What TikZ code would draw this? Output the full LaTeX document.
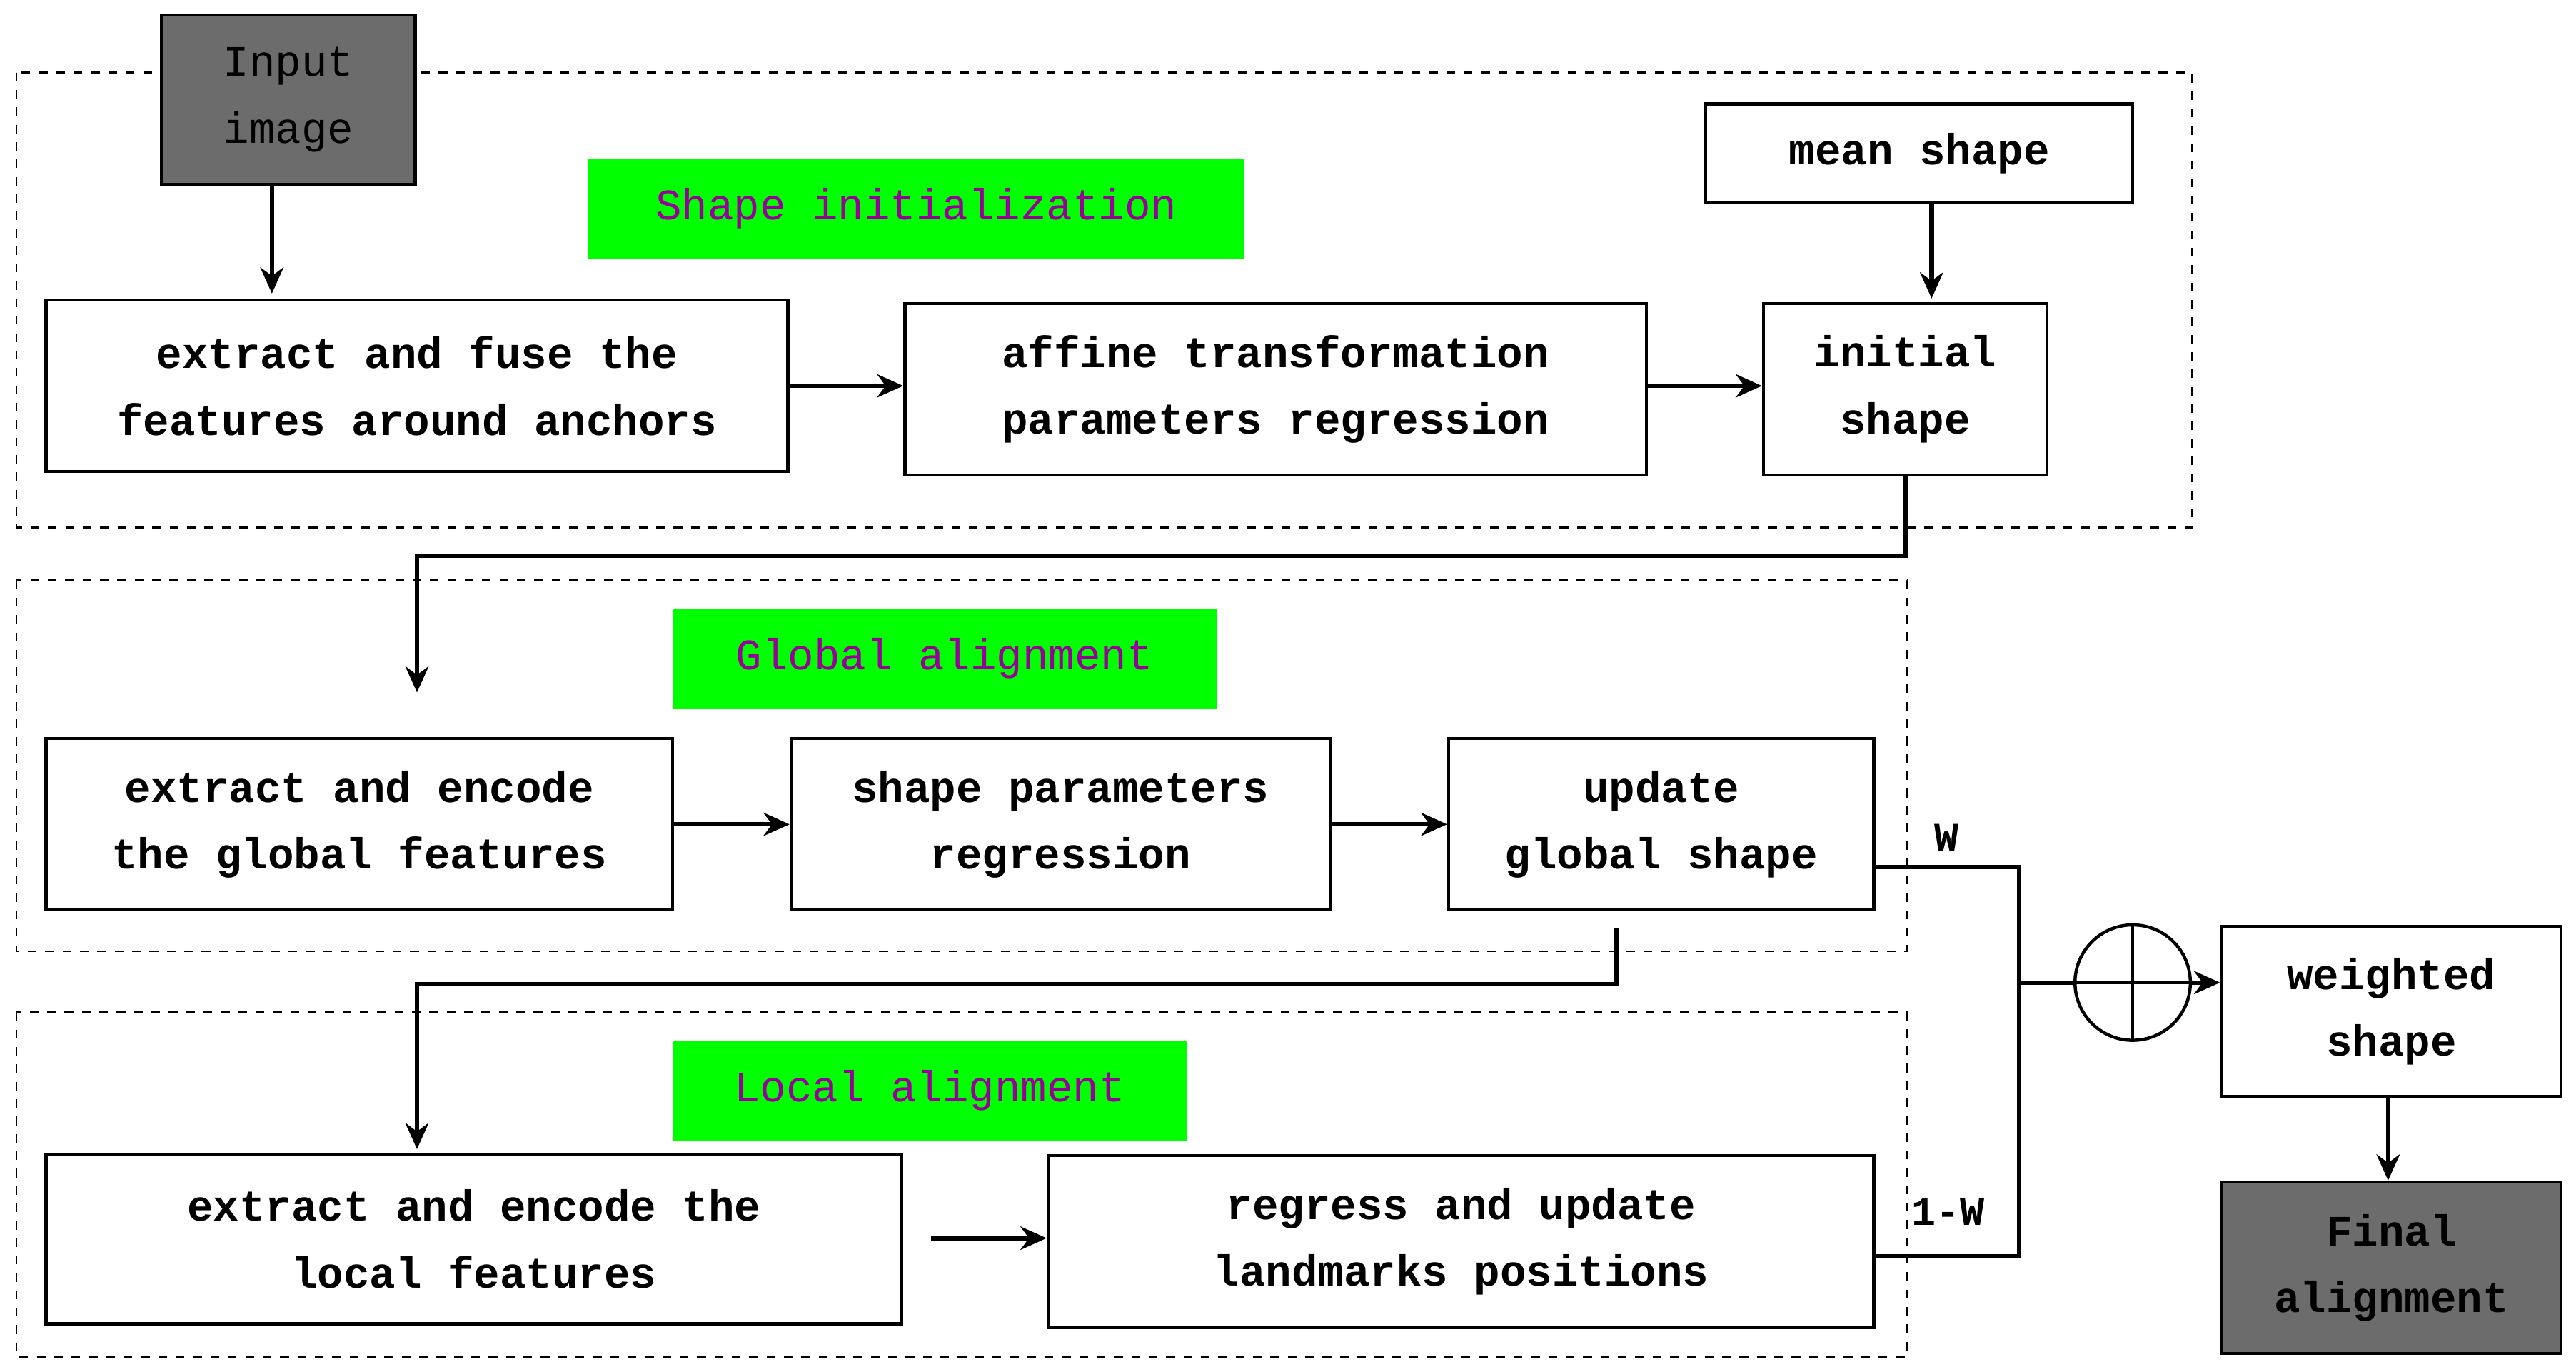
\documentclass[tikz,border=0pt]{standalone}
\usepackage{fontspec}
\setmainfont{Liberation Mono}
\usetikzlibrary{arrows.meta}
\begin{document}
\begin{tikzpicture}[x=0.02cm,y=-0.02cm,
 box/.style={draw,line width=1.1pt,fill=white,align=center,inner sep=0pt,font=\fontsize{15}{23}\selectfont\bfseries},
 gbox/.style={draw=none,fill=green,text=violet!80!magenta,font=\fontsize{15}{18}\selectfont,inner sep=0pt},
 dbox/.style={draw,dashed,line width=0.6pt},
 arr/.style={line width=1.6pt,-{Stealth[length=9pt,width=8pt]}},
 ln/.style={line width=1.6pt}]
\useasboundingbox (0,0) rectangle (1563,826);
\draw[dbox] (10,44) rectangle (1330,320);
\draw[dbox] (10,352) rectangle (1157,577);
\draw[dbox] (10,614) rectangle (1157,823);
\node[box,fill=gray!85!black,font=\fontsize{15}{23}\selectfont,minimum width=154*0.02cm,minimum height=103*0.02cm] (in) at (175,60.5) {Input\\image};
\node[gbox,minimum width=398*0.02cm,minimum height=61*0.02cm] (g1) at (556,126.5) {Shape initialization};
\node[box,minimum width=259*0.02cm,minimum height=60*0.02cm] (ms) at (1164.5,93) {mean shape};
\node[box,minimum width=450*0.02cm,minimum height=104*0.02cm] (ef) at (253,234) {extract and fuse the\\features around anchors};
\node[box,minimum width=450*0.02cm,minimum height=104*0.02cm] (af) at (774,236) {affine transformation\\parameters regression};
\node[box,minimum width=172*0.02cm,minimum height=104*0.02cm] (is) at (1156,236) {initial\\shape};
\node[gbox,minimum width=330*0.02cm,minimum height=61*0.02cm] (g2) at (573,399.5) {Global alignment};
\node[box,minimum width=380*0.02cm,minimum height=104*0.02cm] (eg) at (218,500) {extract and encode\\the global features};
\node[box,minimum width=327*0.02cm,minimum height=104*0.02cm] (sp) at (643.5,500) {shape parameters\\regression};
\node[box,minimum width=258*0.02cm,minimum height=104*0.02cm] (ug) at (1008,500) {update\\global shape};
\node[gbox,minimum width=312*0.02cm,minimum height=61*0.02cm] (g3) at (564,661.5) {Local alignment};
\node[box,minimum width=519*0.02cm,minimum height=103*0.02cm] (el) at (287.5,751.5) {extract and encode the\\local features};
\node[box,minimum width=501*0.02cm,minimum height=104*0.02cm] (rg) at (886.5,753) {regress and update\\landmarks positions};
\node[box,minimum width=206*0.02cm,minimum height=103*0.02cm] (ws) at (1451,613.5) {weighted\\shape};
\node[box,fill=gray!85!black,minimum width=206*0.02cm,minimum height=104*0.02cm] (fa) at (1451,769) {Final\\alignment};
\node[draw,line width=1.1pt,circle,minimum size=70*0.02cm,inner sep=0pt] (op) at (1294,596) {};
\draw[line width=1.1pt] (op.north)--(op.south) (op.west)--(op.east);
\coordinate (j) at (1225,596);
\coordinate (s1) at (565,751);
\draw[arr] (165,113) -- (165,178);
\draw[arr] (ef.east|-0,234) -- (af.west|-0,234);
\draw[arr] (af.east|-0,234) -- (is.west|-0,234);
\draw[arr] (1172,124) -- (1172,181);
\draw[arr] (1156,289) -- (1156,337) -- (253,337) -- (253,420);
\draw[arr] (eg.east) -- (sp.west);
\draw[arr] (sp.east) -- (ug.west);
\draw[arr] (981,563) -- (981,597) -- (253,597) -- (253,697);
\draw[arr] (s1) -- (rg.west|-s1);
\draw[ln] (ug.east|-0,526) -- (1225,526) -- (1225,762) -- (rg.east|-0,762);
\draw[ln] (j) -- (op.west);
\draw[arr] (op.east) -- (ws.west|-op);
\draw[arr] (ws.south-|1449,0) -- (fa.north-|1449,0);
\node[font=\fontsize{14}{16}\selectfont\bfseries] (w) at (1181,508) {W};
\node[font=\fontsize{14}{16}\selectfont\bfseries] (w1) at (1182,735) {1-W};
\end{tikzpicture}
\end{document}
